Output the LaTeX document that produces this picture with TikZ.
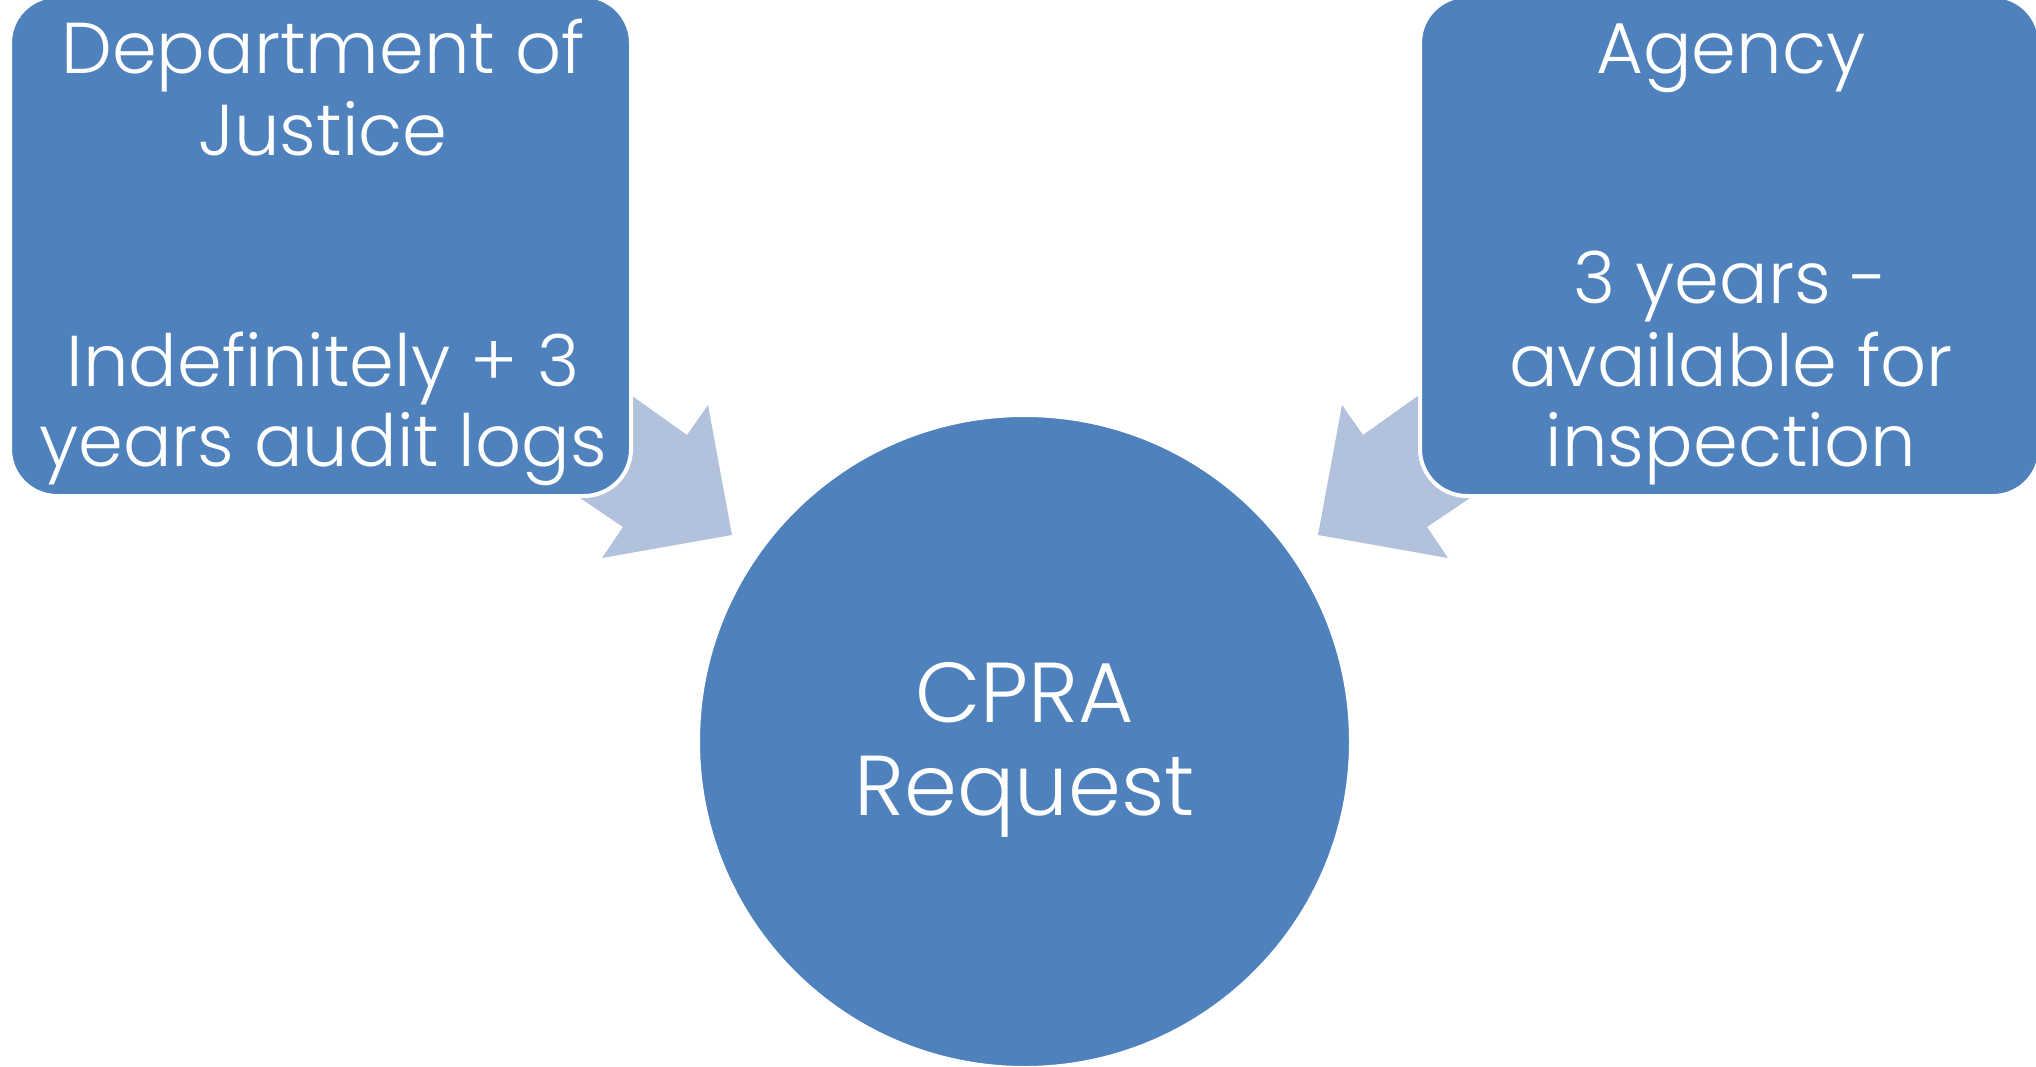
\documentclass[tikz,border=0pt]{standalone}
\usepackage{fontspec}
\setmainfont{Poppins Light}
\definecolor{boxblue}{HTML}{4F81BD}
\definecolor{arrowblue}{HTML}{B2C1DC}
\begin{document}
\begin{tikzpicture}[x=1pt,y=-1pt,
  box/.style={draw=white, line width=4pt, fill=boxblue, rounded corners=47pt, inner sep=0pt},
  blockarrow/.style={fill=arrowblue, draw=none},
  lbl/.style={text=white, font=\fontsize{72}{81}\selectfont, anchor=base, inner sep=0pt},
  big/.style={text=white, font=\fontsize{85}{93}\selectfont, anchor=base, inner sep=0pt}]
\useasboundingbox (0,0) rectangle (2036,1067);
\fill[white] (0,0) rectangle (2036,1067);
% block arrows
\fill[blockarrow] (586,364) -- (635,398) -- (687,435) -- (708,405) -- (732,535) -- (602,558) -- (623,527) -- (583,500) -- (534,466) -- cycle;
\fill[blockarrow] (1464,364) -- (1415,398) -- (1363,435) -- (1342,405) -- (1318,535) -- (1448,558) -- (1427,527) -- (1467,500) -- (1516,466) -- cycle;
% boxes
\node[box, minimum width=621pt, minimum height=500pt] (doj) at (320.5,246) {};
\node[box, minimum width=620pt, minimum height=500pt] (agency) at (1730,246) {};
% circle
\node[draw=white, line width=3pt, fill=boxblue, circle, minimum size=652pt, inner sep=0pt] (cpra) at (1024.5,741.5) {};
% texts
\node[lbl] (d1) at (323,74) {Department of};
\node[lbl] (d2) at (323,156) {Justice};
\node[lbl] (d3) at (323,386) {Indefinitely + 3};
\node[lbl] (d4) at (323,466) {years audit logs};
\node[lbl] (a1) at (1731,74) {Agency};
\node[lbl] (a2) at (1731,303) {3 years -};
\node[lbl] (a3) at (1731,386) {available for};
\node[lbl] (a4) at (1731,466) {inspection};
\node[big] (c1) at (1024.5,722) {CPRA};
\node[big] (c2) at (1024.5,815) {Request};
\end{tikzpicture}
\end{document}
